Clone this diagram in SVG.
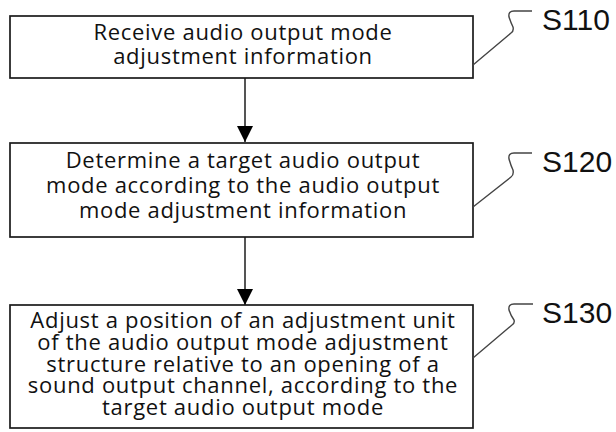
<svg xmlns="http://www.w3.org/2000/svg" width="616" height="432" viewBox="0 0 616 432">
<style>
.box{fill:#fff;stroke:#1a1a1a;stroke-width:1.7}
.t{font-family:"Open Sans","Liberation Sans",sans-serif;font-size:22px;letter-spacing:0.7px;fill:#111;text-anchor:middle}
.lbl{font-family:"Liberation Sans","Open Sans",sans-serif;font-size:30px;fill:#111}
.lead{fill:none;stroke:#444;stroke-width:1.4}
.con{stroke:#555;stroke-width:2;fill:none}
</style>
<defs>
<marker id="ah" markerUnits="userSpaceOnUse" markerWidth="18" markerHeight="16" refX="16" refY="8" orient="auto">
<path d="M0,0 L16,8 L0,16 Z" fill="#000"/>
</marker>
</defs>
<rect width="616" height="432" fill="#fff"/>
<g id="connectors">
<line class="con" x1="245" y1="78" x2="245" y2="142" marker-end="url(#ah)"/>
<line class="con" x1="245" y1="237" x2="245" y2="305" marker-end="url(#ah)"/>
</g>
<g id="S110">
<rect class="box" x="10" y="16" width="463" height="62"/>
<text class="t"><tspan x="243" y="40">Receive audio output mode</tspan><tspan x="243" y="64">adjustment information</tspan></text>
<path class="lead" d="M532,11 L514,11 Q508,11 509,17 Q511,23 513,27 Q514,31 511,33 L473,65"/>
<text class="lbl" x="542" y="30">S110</text>
</g>
<g id="S120">
<rect class="box" x="10" y="143" width="463" height="94"/>
<text class="t"><tspan x="243" y="168">Determine a target audio output</tspan><tspan x="243" y="193">mode according to the audio output</tspan><tspan x="243" y="218">mode adjustment information</tspan></text>
<path class="lead" d="M532,153 L514,153 Q508,153 509,159 Q511,166 513,170 Q514,175 511,177 L473,207"/>
<text class="lbl" x="542" y="172">S120</text>
</g>
<g id="S130">
<rect class="box" x="10" y="305" width="463" height="123"/>
<text class="t"><tspan x="243" y="328">Adjust a position of an adjustment unit</tspan><tspan x="243" y="350">of the audio output mode adjustment</tspan><tspan x="243" y="372">structure relative to an opening of a</tspan><tspan x="243" y="393">sound output channel, according to the</tspan><tspan x="243" y="415">target audio output mode</tspan></text>
<path class="lead" d="M533,304 L514,304 Q508,304 509,310 Q511,316 514,320 Q515,323 512,325 L473,358"/>
<text class="lbl" x="542" y="323">S130</text>
</g>
</svg>
